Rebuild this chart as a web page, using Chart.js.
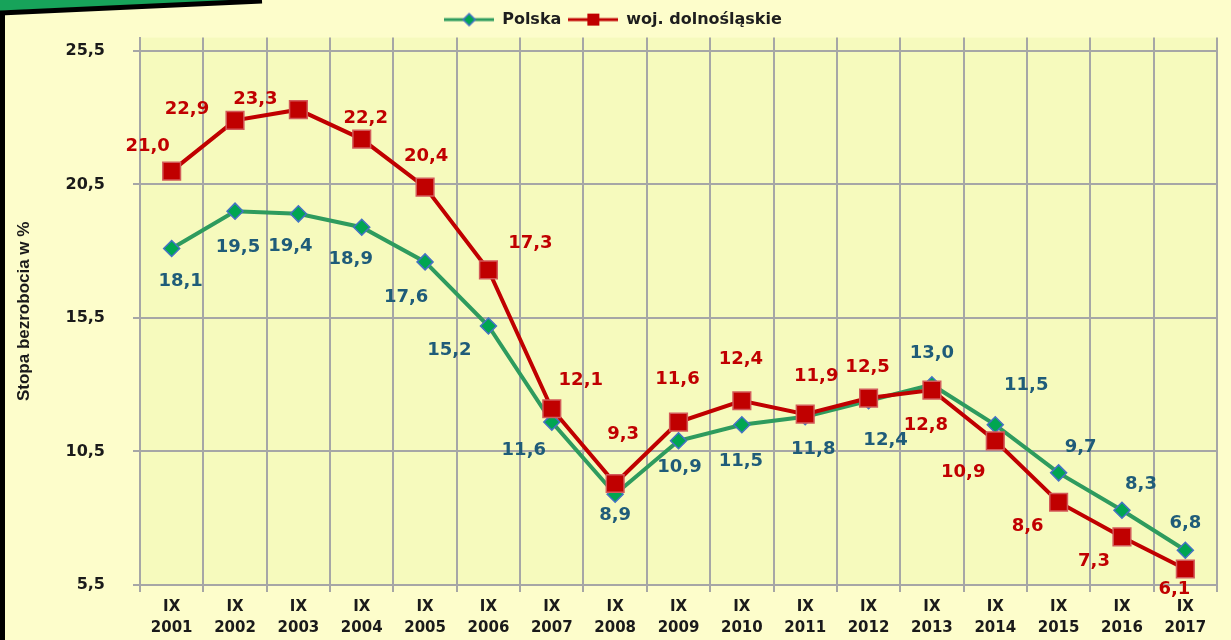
<!DOCTYPE html>
<html>
<head>
<meta charset="utf-8">
<script src="https://cdn.jsdelivr.net/npm/chart.js@4.4.0/dist/chart.umd.min.js"></script>
<style>
  html, body { margin: 0; padding: 0; background: #fdfdcb; }
  #wrap { width: 1231px; height: 640px; position: relative; }
</style>
</head>
<body>
<div id="wrap"><canvas id="c" width="1231" height="640"></canvas></div>
<script>
// dane
const years = ['2001', '2002', '2003', '2004', '2005', '2006', '2007', '2008', '2009',
               '2010', '2011', '2012', '2013', '2014', '2015', '2016', '2017'];
const polska = [18.1, 19.5, 19.4, 18.9, 17.6, 15.2, 11.6, 8.9, 10.9, 11.5, 11.8, 12.4, 13.0, 11.5, 9.7, 8.3, 6.8];
const dolnoslaskie = [21.0, 22.9, 23.3, 22.2, 20.4, 17.3, 12.1, 9.3, 11.6, 12.4, 11.9, 12.5, 12.8, 10.9, 8.6, 7.3, 6.1];
const yTicks = [5.5, 10.5, 15.5, 20.5, 25.5];

// przesunięcia etykiet danych (px)
const polskaDx = [9, 3, -8, -11, -19, -39, -28, 0, 1, -1, 8, 17, 0, 31, 22, 19, 0];
const polskaDy = [33, 36, 32, 32, 35, 24, 28, 21, 27, 37, 33, 40, -31, -39, -26, -26, -27];
const dolnDx = [-24, -48, -43, 4, 1, 42, 29, 8, -1, -1, 11, -1, -6, -32, -31, -28, -11];
const dolnDy = [-25, -11, -10, -21, -31, -27, -28, -49, -43, -41, -38, -31, 35, 32, 24, 24, 20];

const GREEN = '#2e9b5e';
const RED = '#c00000';

function fmt(v) {
    return v.toFixed(1).replace('.', ',');
}

// ikonki legendy (linia + znacznik)
function legendIcon(color, marker) {
    const cv = document.createElement('canvas');
    cv.width = 50;
    cv.height = 18;
    const ctx = cv.getContext('2d');
    ctx.strokeStyle = color;
    ctx.lineWidth = 3;
    ctx.beginPath();
    ctx.moveTo(0, 9);
    ctx.lineTo(50, 9);
    ctx.stroke();
    if (marker === 'diamond') {
        ctx.fillStyle = '#00a651';
        ctx.strokeStyle = '#4472c4';
        ctx.lineWidth = 1.5;
        ctx.beginPath();
        ctx.moveTo(25, 3);
        ctx.lineTo(31, 9);
        ctx.lineTo(25, 15);
        ctx.lineTo(19, 9);
        ctx.closePath();
        ctx.fill();
        ctx.stroke();
    } else {
        ctx.fillStyle = RED;
        ctx.fillRect(19, 3, 12, 12);
    }
    return cv;
}
const legendIcons = [legendIcon(GREEN, 'diamond'), legendIcon(RED, 'square')];

// tło, ramka i obszar wykresu
const backgroundPlugin = {
    id: 'slideBackground',
    beforeDraw(chart) {
        const ctx = chart.ctx;
        const a = chart.chartArea;
        ctx.save();
        ctx.fillStyle = '#fdfdcb';
        ctx.fillRect(0, 0, chart.width, chart.height);
        ctx.fillStyle = '#f6fabd';
        ctx.fillRect(a.left, a.top, a.right - a.left, a.bottom - a.top);
        // zielony róg
        ctx.fillStyle = '#17a35a';
        ctx.beginPath();
        ctx.moveTo(0, 0);
        ctx.lineTo(262, 0);
        ctx.lineTo(0, 11);
        ctx.closePath();
        ctx.fill();
        ctx.strokeStyle = '#000';
        ctx.lineWidth = 5;
        ctx.beginPath();
        ctx.moveTo(0, 13);
        ctx.lineTo(262, 1);
        ctx.stroke();
        ctx.fillStyle = '#000';
        ctx.fillRect(0, 11, 5, chart.height - 11);
        ctx.restore();
    }
};

// etykiety wartości
const valueLabels = {
    id: 'valueLabels',
    afterDatasetsDraw(chart) {
        const ctx = chart.ctx;
        ctx.save();
        ctx.font = 'bold 18px "DejaVu Sans", Verdana, sans-serif';
        ctx.textAlign = 'center';
        ctx.textBaseline = 'middle';
        chart.data.datasets.forEach((ds, di) => {
            const meta = chart.getDatasetMeta(di);
            ctx.fillStyle = ds.labelColor;
            meta.data.forEach((pt, i) => {
                ctx.fillText(fmt(ds.data[i]), pt.x + ds.labelDx[i], pt.y + ds.labelDy[i]);
            });
        });
        ctx.restore();
    }
};

const gridColor = '#a6a6a6';

new Chart(document.getElementById('c'), {
    type: 'line',
    data: {
        labels: years.map(y => ['IX', y]),
        datasets: [
            {
                label: 'Polska',
                data: polska,
                borderColor: GREEN,
                borderWidth: 4,
                pointStyle: 'rectRot',
                pointRadius: 8,
                pointBackgroundColor: '#00a651',
                pointBorderColor: '#4472c4',
                pointBorderWidth: 1.5,
                tension: 0,
                order: 1,
                labelColor: '#1f5c79',
                labelDx: polskaDx,
                labelDy: polskaDy
            },
            {
                label: 'woj. dolnośląskie',
                data: dolnoslaskie,
                borderColor: RED,
                borderWidth: 4,
                pointStyle: 'rect',
                pointRadius: 12.5,
                pointBackgroundColor: RED,
                pointBorderColor: '#d25a5a',
                pointBorderWidth: 1.5,
                tension: 0,
                order: 0,
                labelColor: '#c00000',
                labelDx: dolnDx,
                labelDy: dolnDy
            }
        ]
    },
    options: {
        responsive: false,
        animation: false,
        layout: { padding: { left: 6, right: 11, top: 0, bottom: 0 } },
        plugins: {
            legend: {
                position: 'top',
                labels: {
                    usePointStyle: true,
                    pointStyleWidth: 50,
                    padding: 7,
                    color: '#1e1e1e',
                    font: { family: '"DejaVu Sans", Verdana, sans-serif', size: 16, weight: 'bold' },
                    sort: (a, b) => a.datasetIndex - b.datasetIndex,
                    generateLabels(chart) {
                        const items = Chart.defaults.plugins.legend.labels.generateLabels(chart);
                        items.forEach(it => { it.pointStyle = legendIcons[it.datasetIndex]; });
                        return items;
                    }
                }
            },
            tooltip: { enabled: false }
        },
        scales: {
            x: {
                offset: true,
                grid: { offset: true, color: gridColor, lineWidth: 2, tickLength: 7 },
                border: { color: gridColor, width: 2 },
                ticks: {
                    color: '#1a1a1a',
                    padding: 5,
                    maxRotation: 0,
                    autoSkip: false,
                    font: { family: '"DejaVu Sans", Verdana, sans-serif', size: 15, weight: 'bold', lineHeight: 1.4 }
                },
                afterFit(scale) { scale.height = 55; }
            },
            y: {
                min: 5.5,
                max: 26,
                afterBuildTicks(scale) {
                    scale.ticks = yTicks.map(v => ({ value: v }));
                },
                grid: { color: gridColor, lineWidth: 2, tickLength: 7 },
                border: { color: gridColor, width: 2 },
                ticks: {
                    color: '#1a1a1a',
                    padding: 28,
                    callback: v => fmt(v),
                    font: { family: '"DejaVu Sans", Verdana, sans-serif', size: 16, weight: 'bold' }
                },
                title: {
                    display: true,
                    text: 'Stopa bezrobocia w %',
                    color: '#1a1a1a',
                    padding: { top: 8, bottom: 0 },
                    font: { family: '"Liberation Sans Narrow", "Liberation Sans", sans-serif', size: 17, weight: 'bold' }
                },
                afterFit(scale) { scale.width = 134; }
            }
        }
    },
    plugins: [backgroundPlugin, valueLabels]
});
</script>
</body>
</html>
